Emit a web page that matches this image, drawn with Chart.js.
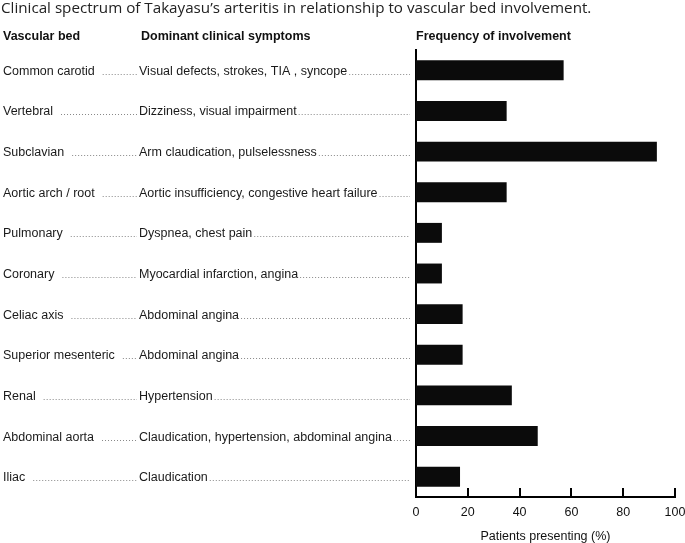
<!DOCTYPE html>
<html>
<head>
<meta charset="utf-8">
<script src="https://cdn.jsdelivr.net/npm/chart.js@4.4.1/dist/chart.umd.min.js"></script>
<style>
  html, body { margin: 0; padding: 0; background: #fff; }
  #wrap { width: 685px; height: 543px; position: relative; }
</style>
</head>
<body>
<div id="wrap"><canvas id="chart"></canvas></div>
<script>
// Values

var vascularBeds = ['Common carotid', 'Vertebral', 'Subclavian', 'Aortic arch / root', 'Pulmonary',
  'Coronary', 'Celiac axis', 'Superior mesenteric', 'Renal', 'Abdominal aorta', 'Iliac'];
var symptoms = ['Visual defects, strokes, TIA , syncope', 'Dizziness, visual impairment',
  'Arm claudication, pulselessness', 'Aortic insufficiency, congestive heart failure',
  'Dyspnea, chest pain', 'Myocardial infarction, angina', 'Abdominal angina', 'Abdominal angina',
  'Hypertension', 'Claudication, hypertension, abdominal angina', 'Claudication'];
var frequency = [57, 35, 93, 35, 10, 10, 18, 18, 37, 47, 17];
var xTicks = [0, 20, 40, 60, 80, 100];

var titleText = 'Clinical spectrum of Takayasu\u2019s arteritis in relationship to vascular bed involvement.';
var headers = ['Vascular bed', 'Dominant clinical symptoms', 'Frequency of involvement'];
var xTitle = 'Patients presenting (%)';

var labelFont = '12.5px "Liberation Sans", Arial, sans-serif';

function dotted(ctx, x1, x2, y) {
  if (x2 <= x1) return;
  ctx.beginPath();
  ctx.moveTo(x1, y);
  ctx.lineTo(x2, y);
  ctx.stroke();
}

// Draws title, column headers, row texts with leaders and the inward tick marks
var sideText = {
  id: 'sideText',
  afterDraw: function(chart) {
    var ctx = chart.ctx;
    var ys = chart.scales.y, xs = chart.scales.x;
    ctx.save();

    ctx.fillStyle = '#222';
    ctx.textBaseline = 'middle';
    ctx.font = '15.2px "Open Sans", sans-serif';
    ctx.fillText(titleText, 1, 8.5);

    ctx.fillStyle = '#111';
    ctx.font = 'bold 12.5px "Liberation Sans", Arial, sans-serif';
    ctx.fillText(headers[0], 3, 37);
    ctx.fillText(headers[1], 141, 37);
    ctx.fillText(headers[2], xs.left, 36.5);

    ctx.font = labelFont;
    ctx.textBaseline = 'alphabetic';
    ctx.strokeStyle = '#888';
    ctx.lineWidth = 1;
    ctx.setLineDash([1, 2]);
    for (var i = 0; i < vascularBeds.length; i++) {
      var base = Math.round(ys.getPixelForValue(i) + 4.5);
      ctx.fillStyle = '#1a1a1a';
      ctx.fillText(vascularBeds[i], 3, base);
      ctx.fillText(symptoms[i], 139, base);
      var w1 = ctx.measureText(vascularBeds[i]).width;
      var w2 = ctx.measureText(symptoms[i]).width;
      dotted(ctx, 3 + w1 + 8, 137, base - 0.5);
      dotted(ctx, 139 + w2 + 2, 410, base - 0.5);
    }

    // tick marks pointing up into the plot
    ctx.setLineDash([]);
    ctx.strokeStyle = '#000';
    ctx.lineWidth = 2;
    xs.ticks.forEach(function(t) {
      var px = Math.round(xs.getPixelForValue(t.value));
      ctx.beginPath();
      ctx.moveTo(px, xs.top);
      ctx.lineTo(px, xs.top - 9);
      ctx.stroke();
    });
    ctx.restore();
  }
};

new Chart(document.getElementById('chart'), {
  type: 'bar',
  data: {
    labels: vascularBeds,
    datasets: [{
      data: frequency,
      backgroundColor: '#0b0b0b',
      borderWidth: 0,
      barPercentage: 0.49,
      categoryPercentage: 1
    }]
  },
  options: {
    indexAxis: 'y',
    responsive: true,
    maintainAspectRatio: false,
    animation: false,
    layout: { padding: { left: 416, top: 50, right: 10, bottom: -1 } },
    plugins: {
      legend: { display: false },
      tooltip: { enabled: false }
    },
    scales: {
      x: {
        min: xTicks[0],
        max: xTicks[xTicks.length - 1],
        afterBuildTicks: function(scale) {
          scale.ticks = xTicks.map(function(v) { return { value: v }; });
        },
        afterFit: function(scale) {
          scale.paddingLeft = 0;
          scale.paddingRight = 0;
        },
        grid: { display: false, drawTicks: false },
        border: { display: true, color: '#000', width: 2 },
        ticks: {
          padding: 8,
          color: '#111',
          maxRotation: 0,
          font: { family: '"Liberation Sans", Arial, sans-serif', size: 12.5 }
        },
        title: {
          display: true,
          text: xTitle,
          color: '#111',
          padding: { top: 1, bottom: 0 },
          font: { family: '"Liberation Sans", Arial, sans-serif', size: 12.5 }
        }
      },
      y: {
        grid: { display: false, drawTicks: false },
        border: { display: true, color: '#000', width: 2 },
        ticks: { display: false }
      }
    }
  },
  plugins: [sideText]
});
</script>
</body>
</html>
